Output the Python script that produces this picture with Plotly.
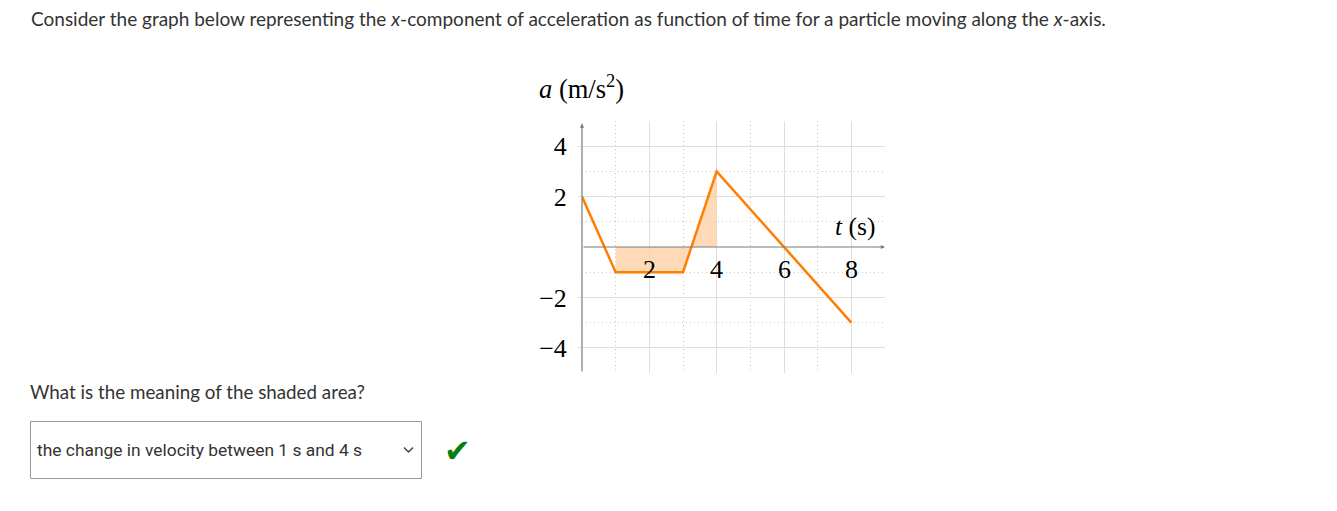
import plotly.graph_objects as go

# ---- data ----
t_vals = [0, 1, 3, 4, 8]
a_vals = [2, -1, -1, 3, -3]
shade_start, shade_end = 1, 4
x_tick_vals = [2, 4, 6, 8]
x_tick_text = ["2", "4", "6", "8"]
y_tick_vals = [-4, -2, 2, 4]
y_tick_text = ["\u22124", "\u22122", "2", "4"]
x_range = [0, 9]
y_range = [-5, 5]

header = ("Consider the graph below representing the <i>x</i>-component of acceleration "
          "as function of time for a particle moving along the <i>x</i>-axis.")
question = "What is the meaning of the shaded area?"
answer = "the change in velocity between 1 s and 4 s"

OFF = 8  # page body margin
W, H = 1337 - OFF, 511 - OFF
def px(x): return (x - OFF) / W
def py(y): return 1 - (y - OFF) / H

# build shaded polygon from data (between curve and zero, t in [1,4])
sx, sy = [], []
for t, a in zip(t_vals, a_vals):
    if shade_start <= t <= shade_end:
        sx.append(t); sy.append(a)
sx += [shade_end, shade_start]
sy += [0, 0]

SERIF = "Liberation Serif"
DOT = "1px,3px"
fig = go.Figure()
fig.add_trace(go.Scatter(x=sx, y=sy, fill="toself", mode="none",
                         fillcolor="rgba(253,205,160,0.75)", hoverinfo="skip"))
fig.add_trace(go.Scatter(x=t_vals, y=a_vals, mode="lines",
                         line=dict(color="#ff7f00", width=2.5), cliponaxis=False))

fig.update_layout(
    width=W, height=H, margin=dict(l=0, r=0, t=0, b=0),
    plot_bgcolor="white", paper_bgcolor="white", showlegend=False,
    xaxis=dict(range=x_range, domain=[px(582), px(885)], tick0=0, dtick=2,
               showticklabels=False, zeroline=False, showline=False,
               gridcolor="#dedede", gridwidth=1, ticks="",
               minor=dict(dtick=1, tick0=0, showgrid=True, gridcolor="#c8c8c8",
                          griddash=DOT, gridwidth=1)),
    yaxis=dict(range=y_range, domain=[py(373), py(121)], tickmode="array",
               tickvals=y_tick_vals, ticktext=y_tick_text,
               tickfont=dict(family=SERIF, size=26, color="black"),
               ticks="outside", ticklen=3, tickcolor="#dedede",
               ticklabelstandoff=6, zeroline=False, showline=False,
               gridcolor="#dedede", gridwidth=1,
               minor=dict(tickvals=[-5, -3, -1, 1, 3, 5], showgrid=True,
                          gridcolor="#c8c8c8", griddash=DOT, gridwidth=1)),
)

ann = []
# axes with arrows
ann.append(dict(x=x_range[1], y=0, ax=x_range[0], ay=0, xref="x", yref="y",
                axref="x", ayref="y", text="", showarrow=True, arrowhead=2,
                arrowsize=0.7, arrowwidth=1.2, arrowcolor="#7a7a7a"))
ann.append(dict(x=0, y=y_range[1] - 0.1, ax=0, ay=y_range[0], xref="x", yref="y",
                axref="x", ayref="y", text="", showarrow=True, arrowhead=2,
                arrowsize=0.7, arrowwidth=1.2, arrowcolor="#7a7a7a"))
# x tick labels
for v, s in zip(x_tick_vals, x_tick_text):
    ann.append(dict(x=v, y=0, xref="x", yref="y", text=s, showarrow=False,
                    yanchor="top", yshift=-6, font=dict(family=SERIF, size=26, color="black")))
# axis titles
ann.append(dict(x=px(537), y=py(87), xref="paper", yref="paper",
                text="<i>a</i> (m/s<sup>2</sup>)", showarrow=False, xanchor="left",
                yanchor="middle", font=dict(family=SERIF, size=26.5, color="black")))
ann.append(dict(x=px(877), y=py(226), xref="paper", yref="paper",
                text="<i>t</i> (s)", showarrow=False, xanchor="right",
                yanchor="middle", font=dict(family=SERIF, size=25.5, color="black")))
# page texts
ann.append(dict(x=px(29), y=py(18), xref="paper", yref="paper", text=header,
                showarrow=False, xanchor="left", yanchor="middle",
                font=dict(family="Lato", size=19, color="#333333")))
ann.append(dict(x=px(28), y=py(391), xref="paper", yref="paper", text=question,
                showarrow=False, xanchor="left", yanchor="middle",
                font=dict(family="Lato", size=18.8, color="#333333")))
ann.append(dict(x=px(35), y=py(450), xref="paper", yref="paper", text=answer,
                showarrow=False, xanchor="left", yanchor="middle",
                font=dict(family="Roboto", size=17.4, color="#333333")))
ann.append(dict(x=px(457), y=py(451), xref="paper", yref="paper", text="<b>\u2714</b>",
                showarrow=False, xanchor="center", yanchor="middle",
                font=dict(family="DejaVu Sans", size=32, color="#0a7d0a")))
fig.update_layout(annotations=ann)

shapes = [
    dict(type="rect", xref="paper", yref="paper", x0=px(30.5), x1=px(421.5),
         y0=py(478.5), y1=py(421.5), line=dict(color="#8d9ba6", width=1)),
    dict(type="path", xref="paper", yref="paper",
         path=f"M {px(404)} {py(447.5)} L {px(408.5)} {py(452)} L {px(413)} {py(447.5)}",
         line=dict(color="#444", width=1.5)),
]
fig.update_layout(shapes=shapes)

fig.write_html("out.html")
